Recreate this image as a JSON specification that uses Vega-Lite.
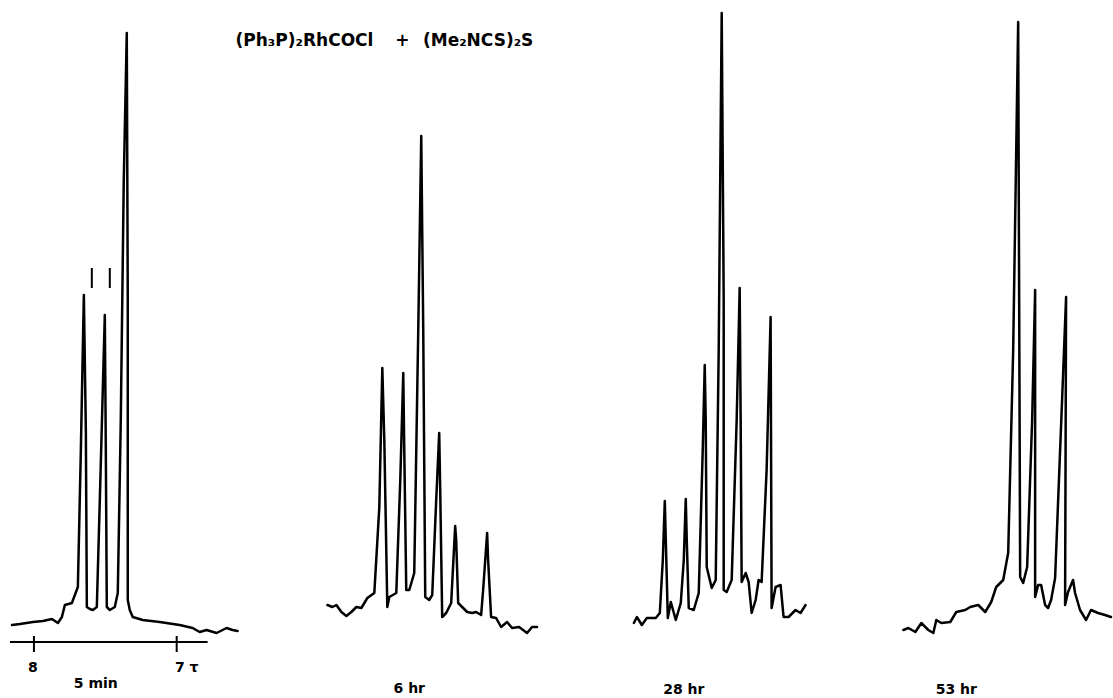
{
  "$schema": "https://vega.github.io/schema/vega-lite/v6.json",
  "width": 1113,
  "height": 698,
  "padding": 0,
  "autosize": {"type": "fit", "contains": "padding"},
  "background": "white",
  "config": {"view": {"stroke": null}},
  "datasets": {
    "spectra": [
      {"s": "5 min", "i": 1, "x": 12, "y": 625}, {"s": "5 min", "i": 2, "x": 20, "y": 624}, {"s": "5 min", "i": 3, "x": 33, "y": 622}, {"s": "5 min", "i": 4, "x": 43, "y": 621}, {"s": "5 min", "i": 5, "x": 52, "y": 619}, {"s": "5 min", "i": 6, "x": 55, "y": 621}, {"s": "5 min", "i": 7, "x": 58, "y": 623}, {"s": "5 min", "i": 8, "x": 62, "y": 617}, {"s": "5 min", "i": 9, "x": 65, "y": 605}, {"s": "5 min", "i": 10, "x": 72, "y": 603}, {"s": "5 min", "i": 11, "x": 75, "y": 595}, {"s": "5 min", "i": 12, "x": 78, "y": 587}, {"s": "5 min", "i": 13, "x": 81, "y": 450}, {"s": "5 min", "i": 14, "x": 84, "y": 295}, {"s": "5 min", "i": 15, "x": 86, "y": 430}, {"s": "5 min", "i": 16, "x": 87, "y": 607}, {"s": "5 min", "i": 17, "x": 90, "y": 609}, {"s": "5 min", "i": 18, "x": 93, "y": 610}, {"s": "5 min", "i": 19, "x": 97, "y": 607}, {"s": "5 min", "i": 20, "x": 100, "y": 500}, {"s": "5 min", "i": 21, "x": 105, "y": 315}, {"s": "5 min", "i": 22, "x": 106, "y": 450}, {"s": "5 min", "i": 23, "x": 107, "y": 607}, {"s": "5 min", "i": 24, "x": 110, "y": 610}, {"s": "5 min", "i": 25, "x": 115, "y": 607}, {"s": "5 min", "i": 26, "x": 118, "y": 593}, {"s": "5 min", "i": 27, "x": 121, "y": 420}, {"s": "5 min", "i": 28, "x": 124, "y": 180}, {"s": "5 min", "i": 29, "x": 127, "y": 33}, {"s": "5 min", "i": 30, "x": 128, "y": 300}, {"s": "5 min", "i": 31, "x": 128, "y": 600}, {"s": "5 min", "i": 32, "x": 130, "y": 610}, {"s": "5 min", "i": 33, "x": 133, "y": 617}, {"s": "5 min", "i": 34, "x": 143, "y": 620}, {"s": "5 min", "i": 35, "x": 160, "y": 622}, {"s": "5 min", "i": 36, "x": 180, "y": 625}, {"s": "5 min", "i": 37, "x": 193, "y": 628}, {"s": "5 min", "i": 38, "x": 200, "y": 632}, {"s": "5 min", "i": 39, "x": 207, "y": 630}, {"s": "5 min", "i": 40, "x": 217, "y": 633}, {"s": "5 min", "i": 41, "x": 227, "y": 628}, {"s": "5 min", "i": 42, "x": 233, "y": 630}, {"s": "5 min", "i": 43, "x": 238, "y": 631},

      {"s": "6 hr", "i": 1, "x": 328, "y": 605}, {"s": "6 hr", "i": 2, "x": 333, "y": 607}, {"s": "6 hr", "i": 3, "x": 337, "y": 605}, {"s": "6 hr", "i": 4, "x": 342, "y": 612}, {"s": "6 hr", "i": 5, "x": 347, "y": 616}, {"s": "6 hr", "i": 6, "x": 352, "y": 612}, {"s": "6 hr", "i": 7, "x": 357, "y": 607}, {"s": "6 hr", "i": 8, "x": 362, "y": 608}, {"s": "6 hr", "i": 9, "x": 368, "y": 598}, {"s": "6 hr", "i": 10, "x": 375, "y": 593}, {"s": "6 hr", "i": 11, "x": 380, "y": 507}, {"s": "6 hr", "i": 12, "x": 383, "y": 368}, {"s": "6 hr", "i": 13, "x": 385, "y": 440}, {"s": "6 hr", "i": 14, "x": 388, "y": 607}, {"s": "6 hr", "i": 15, "x": 390, "y": 597}, {"s": "6 hr", "i": 16, "x": 397, "y": 593}, {"s": "6 hr", "i": 17, "x": 401, "y": 480}, {"s": "6 hr", "i": 18, "x": 404, "y": 373}, {"s": "6 hr", "i": 19, "x": 405, "y": 450}, {"s": "6 hr", "i": 20, "x": 407, "y": 590}, {"s": "6 hr", "i": 21, "x": 410, "y": 590}, {"s": "6 hr", "i": 22, "x": 415, "y": 573}, {"s": "6 hr", "i": 23, "x": 419, "y": 330}, {"s": "6 hr", "i": 24, "x": 422, "y": 136}, {"s": "6 hr", "i": 25, "x": 424, "y": 330}, {"s": "6 hr", "i": 26, "x": 426, "y": 597}, {"s": "6 hr", "i": 27, "x": 430, "y": 600}, {"s": "6 hr", "i": 28, "x": 433, "y": 595}, {"s": "6 hr", "i": 29, "x": 437, "y": 500}, {"s": "6 hr", "i": 30, "x": 440, "y": 433}, {"s": "6 hr", "i": 31, "x": 441, "y": 490}, {"s": "6 hr", "i": 32, "x": 443, "y": 617}, {"s": "6 hr", "i": 33, "x": 447, "y": 613}, {"s": "6 hr", "i": 34, "x": 452, "y": 603}, {"s": "6 hr", "i": 35, "x": 456, "y": 526}, {"s": "6 hr", "i": 36, "x": 457, "y": 540}, {"s": "6 hr", "i": 37, "x": 459, "y": 603}, {"s": "6 hr", "i": 38, "x": 463, "y": 607}, {"s": "6 hr", "i": 39, "x": 468, "y": 612}, {"s": "6 hr", "i": 40, "x": 473, "y": 613}, {"s": "6 hr", "i": 41, "x": 477, "y": 612}, {"s": "6 hr", "i": 42, "x": 482, "y": 615}, {"s": "6 hr", "i": 43, "x": 484, "y": 590}, {"s": "6 hr", "i": 44, "x": 488, "y": 533}, {"s": "6 hr", "i": 45, "x": 489, "y": 560}, {"s": "6 hr", "i": 46, "x": 492, "y": 617}, {"s": "6 hr", "i": 47, "x": 497, "y": 618}, {"s": "6 hr", "i": 48, "x": 502, "y": 627}, {"s": "6 hr", "i": 49, "x": 508, "y": 622}, {"s": "6 hr", "i": 50, "x": 513, "y": 628}, {"s": "6 hr", "i": 51, "x": 520, "y": 627}, {"s": "6 hr", "i": 52, "x": 528, "y": 633}, {"s": "6 hr", "i": 53, "x": 533, "y": 627}, {"s": "6 hr", "i": 54, "x": 538, "y": 627},

      {"s": "28 hr", "i": 1, "x": 635, "y": 623}, {"s": "28 hr", "i": 2, "x": 638, "y": 617}, {"s": "28 hr", "i": 3, "x": 643, "y": 625}, {"s": "28 hr", "i": 4, "x": 648, "y": 618}, {"s": "28 hr", "i": 5, "x": 657, "y": 618}, {"s": "28 hr", "i": 6, "x": 661, "y": 613}, {"s": "28 hr", "i": 7, "x": 664, "y": 560}, {"s": "28 hr", "i": 8, "x": 666, "y": 501}, {"s": "28 hr", "i": 9, "x": 667, "y": 540}, {"s": "28 hr", "i": 10, "x": 669, "y": 618}, {"s": "28 hr", "i": 11, "x": 672, "y": 602}, {"s": "28 hr", "i": 12, "x": 677, "y": 620}, {"s": "28 hr", "i": 13, "x": 682, "y": 603}, {"s": "28 hr", "i": 14, "x": 685, "y": 560}, {"s": "28 hr", "i": 15, "x": 687, "y": 499}, {"s": "28 hr", "i": 16, "x": 688, "y": 540}, {"s": "28 hr", "i": 17, "x": 690, "y": 608}, {"s": "28 hr", "i": 18, "x": 695, "y": 610}, {"s": "28 hr", "i": 19, "x": 700, "y": 593}, {"s": "28 hr", "i": 20, "x": 704, "y": 450}, {"s": "28 hr", "i": 21, "x": 706, "y": 365}, {"s": "28 hr", "i": 22, "x": 707, "y": 420}, {"s": "28 hr", "i": 23, "x": 708, "y": 567}, {"s": "28 hr", "i": 24, "x": 713, "y": 588}, {"s": "28 hr", "i": 25, "x": 717, "y": 580}, {"s": "28 hr", "i": 26, "x": 720, "y": 350}, {"s": "28 hr", "i": 27, "x": 723, "y": 13}, {"s": "28 hr", "i": 28, "x": 725, "y": 300}, {"s": "28 hr", "i": 29, "x": 725, "y": 590}, {"s": "28 hr", "i": 30, "x": 728, "y": 592}, {"s": "28 hr", "i": 31, "x": 733, "y": 580}, {"s": "28 hr", "i": 32, "x": 738, "y": 420}, {"s": "28 hr", "i": 33, "x": 741, "y": 288}, {"s": "28 hr", "i": 34, "x": 742, "y": 420}, {"s": "28 hr", "i": 35, "x": 743, "y": 582}, {"s": "28 hr", "i": 36, "x": 747, "y": 573}, {"s": "28 hr", "i": 37, "x": 750, "y": 582}, {"s": "28 hr", "i": 38, "x": 753, "y": 613}, {"s": "28 hr", "i": 39, "x": 757, "y": 600}, {"s": "28 hr", "i": 40, "x": 760, "y": 580}, {"s": "28 hr", "i": 41, "x": 763, "y": 582}, {"s": "28 hr", "i": 42, "x": 768, "y": 470}, {"s": "28 hr", "i": 43, "x": 772, "y": 317}, {"s": "28 hr", "i": 44, "x": 773, "y": 608}, {"s": "28 hr", "i": 45, "x": 777, "y": 587}, {"s": "28 hr", "i": 46, "x": 782, "y": 585}, {"s": "28 hr", "i": 47, "x": 785, "y": 617}, {"s": "28 hr", "i": 48, "x": 790, "y": 617}, {"s": "28 hr", "i": 49, "x": 797, "y": 610}, {"s": "28 hr", "i": 50, "x": 802, "y": 613}, {"s": "28 hr", "i": 51, "x": 807, "y": 605},

      {"s": "53 hr", "i": 1, "x": 905, "y": 630}, {"s": "53 hr", "i": 2, "x": 910, "y": 628}, {"s": "53 hr", "i": 3, "x": 917, "y": 632}, {"s": "53 hr", "i": 4, "x": 923, "y": 623}, {"s": "53 hr", "i": 5, "x": 930, "y": 630}, {"s": "53 hr", "i": 6, "x": 935, "y": 633}, {"s": "53 hr", "i": 7, "x": 938, "y": 620}, {"s": "53 hr", "i": 8, "x": 943, "y": 623}, {"s": "53 hr", "i": 9, "x": 952, "y": 622}, {"s": "53 hr", "i": 10, "x": 958, "y": 612}, {"s": "53 hr", "i": 11, "x": 967, "y": 610}, {"s": "53 hr", "i": 12, "x": 972, "y": 607}, {"s": "53 hr", "i": 13, "x": 980, "y": 605}, {"s": "53 hr", "i": 14, "x": 987, "y": 612}, {"s": "53 hr", "i": 15, "x": 993, "y": 602}, {"s": "53 hr", "i": 16, "x": 998, "y": 587}, {"s": "53 hr", "i": 17, "x": 1005, "y": 580}, {"s": "53 hr", "i": 18, "x": 1010, "y": 553}, {"s": "53 hr", "i": 19, "x": 1015, "y": 350}, {"s": "53 hr", "i": 20, "x": 1020, "y": 22}, {"s": "53 hr", "i": 21, "x": 1021, "y": 300}, {"s": "53 hr", "i": 22, "x": 1022, "y": 577}, {"s": "53 hr", "i": 23, "x": 1025, "y": 583}, {"s": "53 hr", "i": 24, "x": 1029, "y": 567}, {"s": "53 hr", "i": 25, "x": 1034, "y": 420}, {"s": "53 hr", "i": 26, "x": 1037, "y": 290}, {"s": "53 hr", "i": 27, "x": 1037, "y": 597}, {"s": "53 hr", "i": 28, "x": 1040, "y": 585}, {"s": "53 hr", "i": 29, "x": 1043, "y": 585}, {"s": "53 hr", "i": 30, "x": 1047, "y": 605}, {"s": "53 hr", "i": 31, "x": 1050, "y": 608}, {"s": "53 hr", "i": 32, "x": 1053, "y": 600}, {"s": "53 hr", "i": 33, "x": 1057, "y": 578}, {"s": "53 hr", "i": 34, "x": 1064, "y": 400}, {"s": "53 hr", "i": 35, "x": 1068, "y": 297}, {"s": "53 hr", "i": 36, "x": 1067, "y": 605}, {"s": "53 hr", "i": 37, "x": 1070, "y": 592}, {"s": "53 hr", "i": 38, "x": 1075, "y": 580}, {"s": "53 hr", "i": 39, "x": 1077, "y": 593}, {"s": "53 hr", "i": 40, "x": 1082, "y": 610}, {"s": "53 hr", "i": 41, "x": 1088, "y": 620}, {"s": "53 hr", "i": 42, "x": 1093, "y": 610}, {"s": "53 hr", "i": 43, "x": 1100, "y": 613}, {"s": "53 hr", "i": 44, "x": 1107, "y": 615}, {"s": "53 hr", "i": 45, "x": 1113, "y": 617}
    ],
    "rules": [
      {"x": 10, "y": 642, "x2": 208, "y2": 642},
      {"x": 34, "y": 636, "x2": 34, "y2": 652},
      {"x": 177, "y": 636, "x2": 177, "y2": 652},
      {"x": 92, "y": 268, "x2": 92, "y2": 288},
      {"x": 110, "y": 268, "x2": 110, "y2": 288}
    ],
    "labels": [
      {"x": 305, "y": 41, "t": "(Ph\u2083P)\u2082RhCOCl", "k": "title"},
      {"x": 403, "y": 41, "t": "+", "k": "title"},
      {"x": 479, "y": 41, "t": "(Me\u2082NCS)\u2082S", "k": "title"},
      {"x": 33, "y": 668, "t": "8", "k": "tick"},
      {"x": 187, "y": 668, "t": "7 \u03c4", "k": "tick"},
      {"x": 96, "y": 684, "t": "5 min", "k": "cap"},
      {"x": 410, "y": 689, "t": "6 hr", "k": "cap"},
      {"x": 685, "y": 690, "t": "28 hr", "k": "cap"},
      {"x": 958, "y": 690, "t": "53 hr", "k": "cap"}
    ]
  },
  "layer": [
    {
      "data": {"name": "spectra"},
      "mark": {"type": "line", "color": "black", "strokeWidth": 2.5, "strokeJoin": "round", "strokeCap": "round"},
      "encoding": {
        "x": {"field": "x", "type": "quantitative", "scale": {"domain": [0, 1113], "nice": false, "zero": false}, "axis": null},
        "y": {"field": "y", "type": "quantitative", "scale": {"domain": [0, 698], "nice": false, "zero": false, "reverse": true}, "axis": null},
        "detail": {"field": "s"},
        "order": {"field": "i", "type": "quantitative"}
      }
    },
    {
      "data": {"name": "rules"},
      "mark": {"type": "rule", "color": "black", "strokeWidth": 2},
      "encoding": {
        "x": {"field": "x", "type": "quantitative"},
        "y": {"field": "y", "type": "quantitative"},
        "x2": {"field": "x2"},
        "y2": {"field": "y2"}
      }
    },
    {
      "data": {"name": "labels"},
      "transform": [{"filter": "datum.k == 'title'"}],
      "mark": {"type": "text", "font": "DejaVu Sans", "fontWeight": "bold", "fontSize": 17, "color": "black", "align": "center", "baseline": "middle"},
      "encoding": {
        "x": {"field": "x", "type": "quantitative"},
        "y": {"field": "y", "type": "quantitative"},
        "text": {"field": "t"}
      }
    },
    {
      "data": {"name": "labels"},
      "transform": [{"filter": "datum.k != 'title'"}],
      "mark": {"type": "text", "font": "DejaVu Sans", "fontWeight": "bold", "fontSize": 14, "color": "black", "align": "center", "baseline": "middle"},
      "encoding": {
        "x": {"field": "x", "type": "quantitative"},
        "y": {"field": "y", "type": "quantitative"},
        "text": {"field": "t"}
      }
    }
  ]
}
